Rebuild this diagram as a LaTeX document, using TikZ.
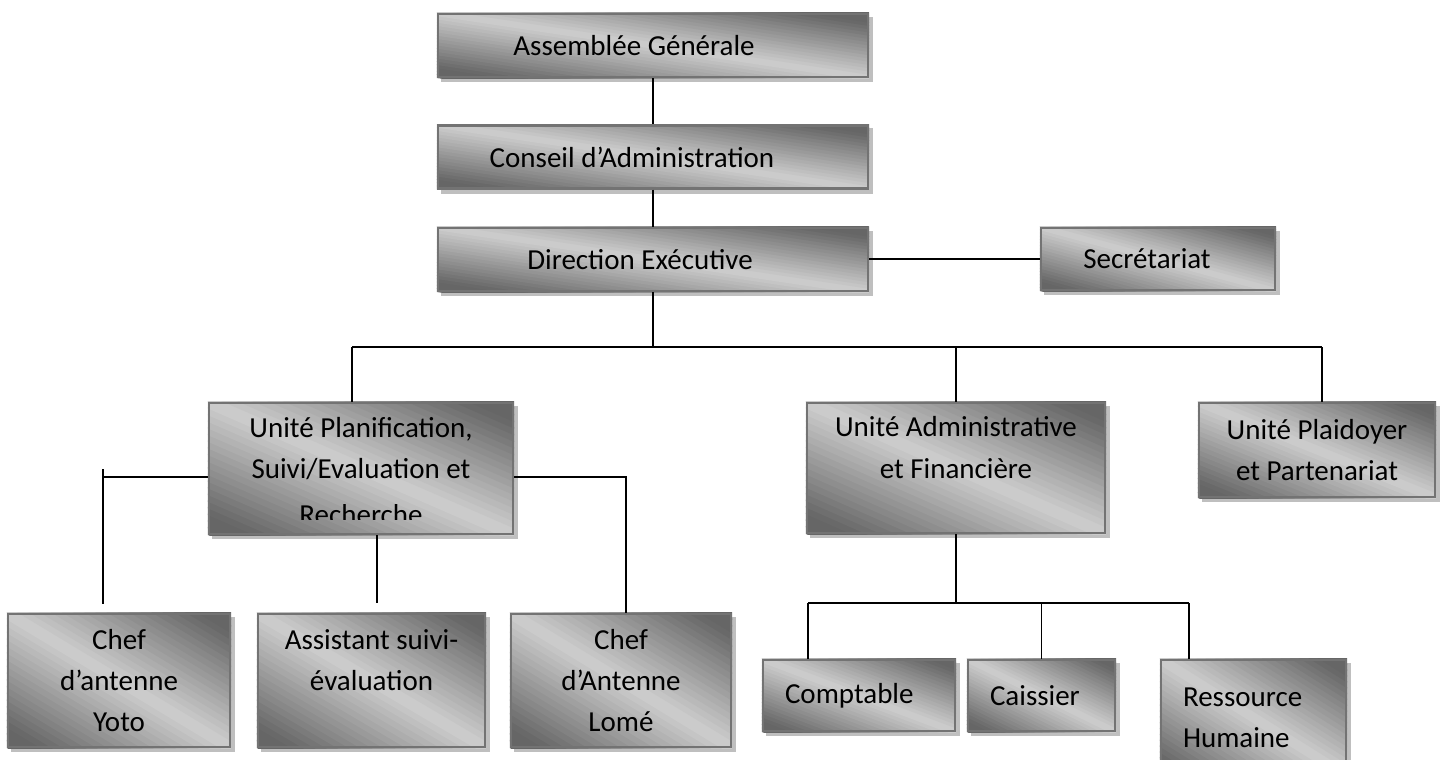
\documentclass[tikz,border=0pt]{standalone}
\usepackage{fontspec}
\setmainfont{Carlito}
\usepackage{adjustbox}
\usetikzlibrary{calc,backgrounds}
\tikzstyle{block} = [rectangle, draw=black!55, line width=1.2pt, align=center, font=\fontsize{16.5}{23.5}\selectfont, inner sep=2pt]
\tikzstyle{leftblock} = [block, align=left, inner xsep=0.44cm]
\tikzstyle{line} = [draw, line width=1.1pt]
\tikzset{nudge/.style={execute at begin node={\hspace*{#1}}}}
% shadow and diagonal grey fade behind a box
\newcommand\shadebox[1]{%
  \fill[black!25] ([shift={(0.08cm,-0.08cm)}]#1.south west) rectangle ([shift={(0.08cm,-0.08cm)}]#1.north east);
  \begin{scope}
    \clip (#1.south west) rectangle (#1.north east);
    \begin{scope}[shift={(#1.center)}, x={($(#1.east)-(#1.center)$)}, y={($(#1.north)-(#1.center)$)}]
      \foreach \s in {-1,-0.95,...,0.96} {
        \pgfmathsetmacro\stripc{2*\s}
        \pgfmathsetmacro\shadeval{19+41*min(1,abs(\s+0.025)/0.85)}
        \fill[black!\shadeval] (\stripc-3,3) -- (\stripc+3,-3) -- (\stripc+3.12,-3) -- (\stripc-2.88,3) -- cycle;
      }
    \end{scope}
  \end{scope}}

\begin{document}
\begin{tikzpicture}[x=0.02cm, y=-0.02cm]
    \useasboundingbox (0,0) rectangle (1443,760);
    \clip (0,0) rectangle (1443,760);
    % Place nodes
    \node [block, nudge=-0.76cm, minimum width=8.6cm, minimum height=1.26cm] (assemblee) at (653,45.5) {Assemblée Générale};
    \node [block, nudge=-0.84cm, minimum width=8.6cm, minimum height=1.26cm] (conseil) at (653,157) {Conseil d’Administration};
    \node [block, nudge=-0.52cm, minimum width=8.6cm, minimum height=1.26cm] (direction) at (653,259.5) {Direction Exécutive};
    \node [block, nudge=-0.44cm, minimum width=4.68cm, minimum height=1.24cm] (secretariat) at (1158,259) {Secrétariat};
    \node [block, minimum width=6.08cm, minimum height=2.62cm] (planif) at (361,468.5) {Unité Planification,\\ Suivi/Evaluation et\\ \clipbox{0pt 2.8pt 0pt 0pt}{Recherche}};
    \node [block, minimum width=5.96cm, minimum height=2.6cm] (admin) at (956,468) {Unité Administrative\\ et Financière\\ \mbox{}};
    \node [block, minimum width=4.72cm, minimum height=1.88cm] (plaidoyer) at (1317,450) {Unité Plaidoyer\\ et Partenariat};
    \node [block, minimum width=4.44cm, minimum height=2.66cm] (yoto) at (119,680.5) {Chef\\ d’antenne\\ Yoto};
    \node [block, minimum width=4.54cm, minimum height=2.66cm] (assistant) at (371.5,680.5) {Assistant suivi-\\ évaluation\\ \mbox{}};
    \node [block, minimum width=4.4cm, minimum height=2.66cm] (lome) at (621,680.5) {Chef\\ d’Antenne\\ Lomé};
    \node [leftblock, text width=2.96cm, minimum height=1.42cm] (comptable) at (859,695.5) {Comptable};
    \node [leftblock, text width=2.06cm, minimum height=1.42cm] (caissier) at (1041.5,695.5) {Caissier};
    \node [leftblock, text width=2.82cm, minimum height=2.3cm] (ressource) at (1253.5,717.5) {Ressource\\ Humaine};

    % Box fill
    \begin{scope}[on background layer]
      \foreach \n in {assemblee,conseil,direction,secretariat,planif,admin,plaidoyer,yoto,assistant,lome,comptable,caissier,ressource}
        {\shadebox{\n}}
    \end{scope}

    \coordinate (bus) at (655,347);
    \coordinate (busleft) at (352,347);
    \coordinate (busright) at (1322,347);
    \coordinate (yototop) at (103,469);
    \coordinate (yotoend) at (103,604);
    \coordinate (midend) at (377,603);
    \coordinate (planifleft) at ([yshift=-0.17cm]planif.west);
    \coordinate (planifright) at ([yshift=-0.17cm]planif.east);
    \coordinate (lometop) at (626,613);
    \coordinate (adminbus) at (954,603);
    \coordinate (bl) at (808,603);
    \coordinate (br) at (1189,603);

    % Draw edges
    \path [line] (assemblee) -- (conseil);
    \path [line] (conseil) -- (direction);
    \path [line] (direction.east |- secretariat.west) -- (secretariat.west);
    \path [line] (direction.south) -- (direction.south |- bus);
    \path [line] (busleft) -- (busright);
    \path [line] (busleft) -- (busleft |- planif.north);
    \path [line] (admin.north |- bus) -- (admin.north);
    \path [line] (busright) -- (busright |- plaidoyer.north);
    \path [line] (planifleft) -- (planifleft -| yototop);
    \path [line] (yototop) -- (yotoend);
    \path [line] (midend |- planif.south) -- (midend);
    \path [line] (planifright) -| (lometop);
    \path [line] (admin.south) -- (admin.south |- adminbus);
    \path [line] (bl) -- (br);
    \path [line] (bl) -- (bl |- comptable.north);
    \path [line] (caissier.north |- bl) -- (caissier.north);
    \path [line] (br) -- (br |- ressource.north);
\end{tikzpicture}
\end{document}
